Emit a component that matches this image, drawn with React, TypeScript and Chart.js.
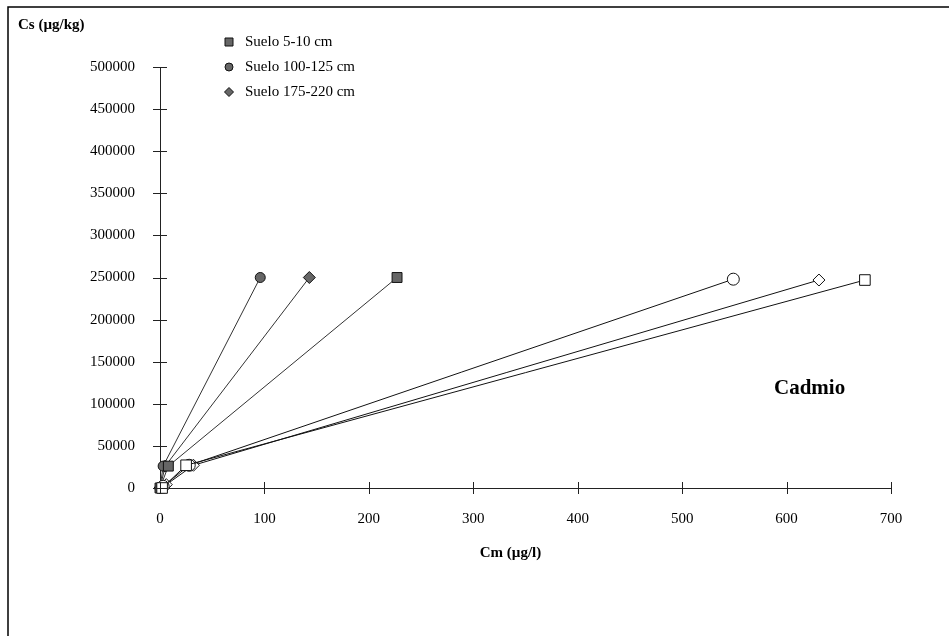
import React, { useEffect, useRef } from "react";
import { Chart, registerables } from "chart.js";

Chart.register(...registerables);

// Sorption (filled markers)
const s510X = [0, 8, 227];
const s510Y = [0, 26000, 250000];
const s100X = [0, 3, 96];
const s100Y = [0, 26000, 250000];
const s175X = [0, 5, 143];
const s175Y = [0, 26000, 250000];

// Desorption (open markers)
const d510X = [2, 25, 675];
const d510Y = [0, 27000, 247000];
const d100X = [3, 28, 549];
const d100Y = [2000, 27000, 248000];
const d175X = [6, 32, 631];
const d175Y = [4000, 27000, 247000];

const legendLabels = ["Suelo 5-10 cm", "Suelo 100-125 cm", "Suelo 175-220 cm"];
const xTitle = "Cm (µg/l)";
const yTitle = "Cs (µg/kg)";
const chartLabel = "Cadmio";

const FONT = "'Liberation Serif', 'DejaVu Serif', serif";

const toPts = (xs: number[], ys: number[]) => xs.map((x, i) => ({ x, y: ys[i] }));

const decorPlugin = {
  id: "decor",
  afterDraw(chart: any) {
    const ctx = chart.ctx;
    const xs = chart.scales.x;
    const ys = chart.scales.y;
    const area = chart.chartArea;
    ctx.save();
    // frame lines (top & left)
    ctx.strokeStyle = "#000";
    ctx.lineWidth = 1.5;
    ctx.beginPath();
    ctx.moveTo(8, 636);
    ctx.lineTo(8, 7);
    ctx.lineTo(949, 7);
    ctx.stroke();

    // crossing tick marks
    ctx.lineWidth = 1;
    ctx.strokeStyle = "#222";
    xs.ticks.forEach((t: any) => {
      const px = Math.round(xs.getPixelForValue(t.value)) + 0.5;
      ctx.beginPath();
      ctx.moveTo(px, area.bottom - 6);
      ctx.lineTo(px, area.bottom + 6);
      ctx.stroke();
    });
    ys.ticks.forEach((t: any) => {
      const py = Math.round(ys.getPixelForValue(t.value)) + 0.5;
      ctx.beginPath();
      ctx.moveTo(area.left - 7, py);
      ctx.lineTo(area.left + 7, py);
      ctx.stroke();
    });

    // titles
    ctx.fillStyle = "#000";
    ctx.font = `bold 15px ${FONT}`;
    ctx.textBaseline = "middle";
    ctx.textAlign = "left";
    ctx.fillText(yTitle, 18, 25);
    ctx.textAlign = "center";
    ctx.fillText(xTitle, (area.left + area.right) / 2 - 15, 553);
    ctx.font = `bold 21px ${FONT}`;
    ctx.textAlign = "left";
    ctx.fillText(chartLabel, 774, 389);

    // legend
    const styles = ["rect", "circle", "rectRot"];
    const rowsY = [42, 67, 92];
    ctx.font = `15px ${FONT}`;
    legendLabels.forEach((lab, i) => {
      const cx = 229;
      const cy = rowsY[i];
      ctx.fillStyle = "#666";
      ctx.strokeStyle = "#111";
      ctx.lineWidth = 1;
      ctx.beginPath();
      if (styles[i] === "rect") {
        ctx.rect(cx - 4, cy - 4, 8, 8);
      } else if (styles[i] === "circle") {
        ctx.arc(cx, cy, 4, 0, Math.PI * 2);
      } else {
        ctx.moveTo(cx, cy - 4.5);
        ctx.lineTo(cx + 4.5, cy);
        ctx.lineTo(cx, cy + 4.5);
        ctx.lineTo(cx - 4.5, cy);
        ctx.closePath();
      }
      ctx.fill();
      ctx.stroke();
      ctx.fillStyle = "#000";
      ctx.textAlign = "left";
      ctx.fillText(lab, 245, cy);
    });
    ctx.restore();
  },
};

export default function App() {
  const ref = useRef<HTMLCanvasElement | null>(null);
  useEffect(() => {
    if (!ref.current) return;
    const filled = (label: string, xs: number[], ys: number[], style: string, r: number) => ({
      label,
      data: toPts(xs, ys),
      showLine: true,
      borderColor: "#333",
      borderWidth: 1,
      pointStyle: style,
      pointRadius: r,
      pointBackgroundColor: "#666",
      pointBorderColor: "#111",
      pointBorderWidth: 1,
      clip: false,
    });
    const open = (label: string, xs: number[], ys: number[], style: string, r: number) => ({
      label,
      data: toPts(xs, ys),
      showLine: true,
      borderColor: "#111",
      borderWidth: 1,
      pointStyle: style,
      pointRadius: r,
      pointBackgroundColor: "#fff",
      pointBorderColor: "#111",
      pointBorderWidth: 1,
      clip: false,
    });
    const chart = new Chart(ref.current, {
      type: "scatter",
      data: {
        datasets: [
          open("Suelo 5-10 cm (des)", d510X, d510Y, "rect", 7.5),
          open("Suelo 100-125 cm (des)", d100X, d100Y, "circle", 6),
          open("Suelo 175-220 cm (des)", d175X, d175Y, "rectRot", 6),
          filled(legendLabels[0], s510X, s510Y, "rect", 7),
          filled(legendLabels[1], s100X, s100Y, "circle", 5),
          filled(legendLabels[2], s175X, s175Y, "rectRot", 6),
        ],
      },
      options: {
        responsive: false,
        animation: false,
        layout: { padding: { top: 67, right: 58, bottom: 0, left: 0 } },
        plugins: { legend: { display: false }, tooltip: { enabled: false } },
        scales: {
          x: {
            type: "linear",
            min: 0,
            max: 700,
            ticks: {
              stepSize: 100,
              padding: 22,
              color: "#000",
              font: { family: FONT, size: 15 },
              maxRotation: 0,
              callback: (v: any) => String(v),
            },
            grid: { drawOnChartArea: false, drawTicks: false },
            border: { display: true, color: "#222", width: 1 },
            afterFit: (s: any) => { s.height = 148; },
          },
          y: {
            type: "linear",
            min: 0,
            max: 500000,
            ticks: {
              stepSize: 50000,
              padding: 25,
              color: "#000",
              font: { family: FONT, size: 15 },
              callback: (v: any) => String(v),
            },
            grid: { drawOnChartArea: false, drawTicks: false },
            border: { display: true, color: "#222", width: 1 },
            afterFit: (s: any) => { s.width = 160; },
          },
        },
      },
      plugins: [decorPlugin],
    } as any);
    return () => chart.destroy();
  }, []);
  return (
    <div style={{ position: "fixed", left: 0, top: 0, width: 949, height: 636, background: "#fff" }}>
      <canvas ref={ref} width={949} height={636} style={{ display: "block" }} />
    </div>
  );
}
